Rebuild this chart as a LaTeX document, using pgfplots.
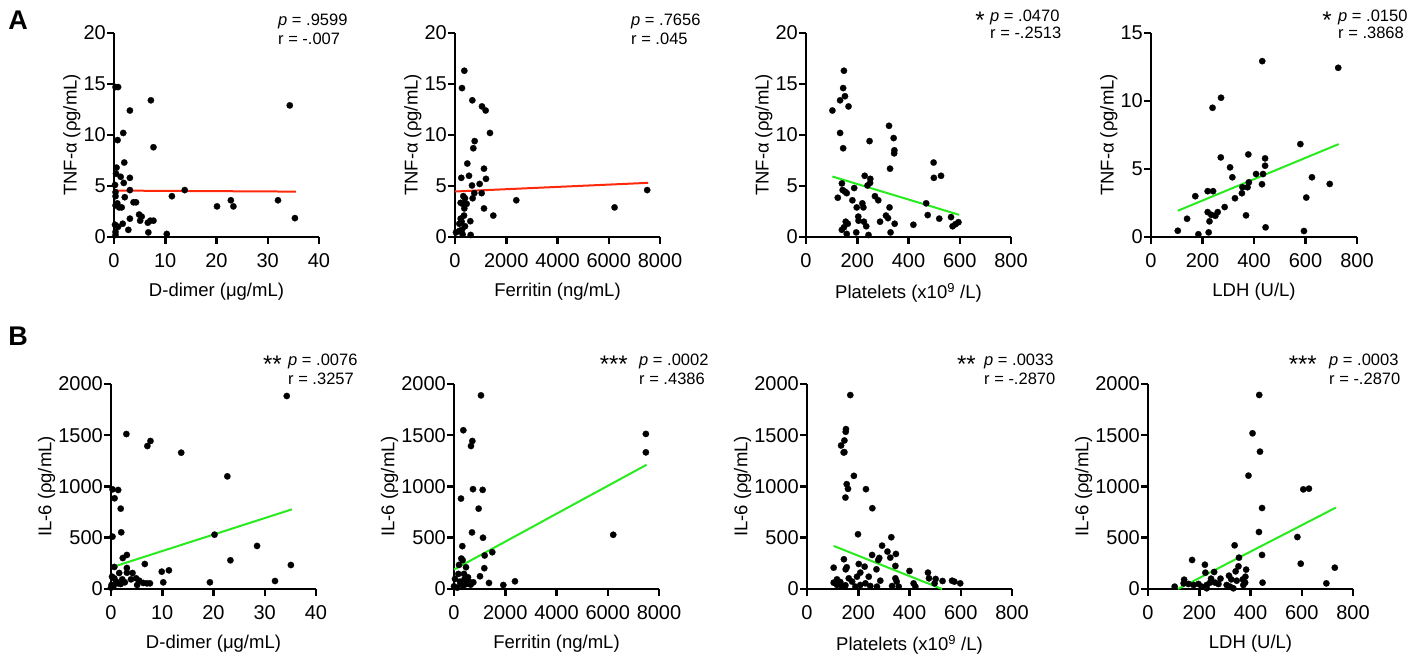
\documentclass[border=0pt]{standalone}
\usepackage{fontspec}
\setmainfont{Liberation Sans}
\usepackage{pgfplots}
\pgfplotsset{compat=1.18}
\definecolor{fitred}{RGB}{255,40,10}
\definecolor{fitgreen}{RGB}{40,235,30}
\newcommand\tickfont{\fontsize{20}{22}\selectfont}
\newcommand\labfont{\fontsize{18.5}{21}\selectfont}
\newcommand\annfont{\fontsize{16.5}{19}\selectfont}
\newcommand\starfont{\fontsize{24}{26}\selectfont}
\pgfplotsset{
  gp/.style={
    scale only axis, width=205pt, height=204pt, anchor=south west,
    axis x line=bottom, axis y line=left,
    axis line style={-, line width=2.5pt, black},
    xmin=0, ymin=0, clip=false,
    tick align=outside, major tick length=7pt,
    every tick/.style={line width=2.5pt, black},
    xticklabel style={font=\tickfont, inner sep=0pt, yshift=-9pt},
    yticklabel style={font=\tickfont, inner sep=0pt, xshift=-1pt},
    xlabel style={font=\labfont, at={(axis description cs:0.5,0)}, anchor=north, inner sep=0pt, yshift=-46pt},
    ylabel style={font=\labfont, inner sep=3pt},
    /pgf/number format/1000 sep={},
    /pgf/number format/assume math mode=true,
  },
  dots/.style={only marks, mark=*, mark size=3.2pt, black, mark options={solid, fill=black, draw=black, line width=0.2pt}},
  fit/.style={no marks, line width=2pt, #1},
}
% annotation: x of p, baseline of p line (image px from top), line gap, star right edge, stars, p, r
\newcommand\ann[7]{%
  \node[anchor=base west, inner sep=0pt, font=\annfont] at (#1pt, 658pt-#2pt) {\textit{p} = #6};
  \node[anchor=base west, inner sep=0pt, font=\annfont] at (#1pt, 658pt-#2pt-#3pt) {r = #7};
  \node[anchor=base east, inner sep=0pt, font=\starfont] at (#4pt, 658pt-#2pt-7pt) {#5};
}
\begin{document}
\begin{tikzpicture}
\path[use as bounding box] (0,0) rectangle (1424pt,658pt);
% ---------------- Row A ----------------
\begin{axis}[gp, at={(114pt,421pt)}, xmax=40, ymax=20, xtick={0,10,20,30,40}, ytick={0,5,10,15,20},
  xlabel={D-dimer (μg/mL)}, ylabel={TNF-α (ρg/mL)}]
\addplot[dots] coordinates {(0.3,14.7)(0.8,14.7)(7.2,13.4)(3.1,12.4)(34.3,12.9)(1.8,10.2)(0.7,9.5)(7.7,8.8)(2.0,7.3)(0.5,6.8)(0.4,6.2)(1.3,5.9)(3.1,5.8)(0.2,5.1)(1.9,5.3)(3.1,4.6)(0.3,4.4)(13.8,4.6)(0.3,4.0)(2.1,3.9)(11.3,4.0)(3.8,3.4)(4.3,3.4)(22.8,3.6)(32.0,3.6)(20.1,3.0)(23.3,3.0)(0.65,3.3)(1.0,2.9)(1.5,2.9)(0.3,3.1)(4.9,2.2)(5.4,2.0)(5.1,1.6)(3.1,1.8)(35.3,1.85)(6.6,1.4)(7.1,1.6)(7.7,1.6)(1.7,1.3)(0.2,1.2)(0.8,1.0)(2.8,0.7)(6.7,0.45)(10.3,0.3)(0.3,0.5)(0.3,0.2)};
\addplot[fit=fitred] coordinates {(0,4.55)(35.5,4.45)};
\end{axis}
\begin{axis}[gp, at={(455pt,421pt)}, xmax=8000, ymax=20, xtick={0,2000,4000,6000,8000}, ytick={0,5,10,15,20},
  xlabel={Ferritin (ng/mL)}, ylabel={TNF-α (ρg/mL)}]
\addplot[dots] coordinates {(364,16.3)(273,14.6)(676,13.4)(1053,12.8)(1196,12.4)(1365,10.2)(767,9.4)(715,8.7)(481,7.2)(1131,6.7)(546,6.0)(247,5.8)(1209,5.7)(663,5.05)(962,5.2)(1040,4.3)(754,4.3)(689,3.8)(325,4.0)(390,3.8)(221,3.35)(299,3.25)(455,3.25)(364,2.8)(1131,2.8)(2392,3.6)(6227,2.9)(7500,4.6)(1495,2.1)(351,2.1)(221,1.8)(260,1.5)(598,1.55)(169,1.3)(390,1.05)(273,0.7)(39,0.45)(299,0.25)(611,0.2)(169,0.6)};
\addplot[fit=fitred] coordinates {(0,4.46)(7540,5.31)};
\end{axis}
\begin{axis}[gp, at={(806pt,421pt)}, xmax=800, ymax=20, xtick={0,200,400,600,800}, ytick={0,5,10,15,20},
  xlabel={Platelets (x10\textsuperscript{9} /L)}, ylabel={TNF-α (ρg/mL)}]
\addplot[dots] coordinates {(148,16.3)(145,14.6)(152,13.8)(133,13.4)(166,12.8)(103,12.4)(133,10.2)(145,8.7)(324,10.9)(342,9.7)(248,9.4)(345,8.5)(344,8.2)(328,6.7)(498,7.3)(499,5.8)(527,6.0)(229,6.0)(251,5.7)(250,5.3)(240,5.05)(140,5.25)(188,4.8)(143,4.6)(152,4.45)(159,4.3)(124,3.85)(269,4.0)(282,3.6)(181,3.6)(220,3.3)(224,2.9)(198,2.9)(326,2.9)(469,3.3)(475,2.15)(204,2.0)(205,1.6)(312,2.1)(320,1.85)(289,1.5)(226,1.5)(155,1.5)(163,1.3)(346,1.3)(419,1.2)(520,1.8)(566,1.95)(572,1.05)(583,1.25)(595,1.45)(235,1.05)(140,0.7)(148,0.95)(159,0.3)(196,0.45)(244,0.2)(330,0.45)};
\addplot[fit=fitgreen] coordinates {(103,5.93)(597,2.18)};
\end{axis}
\begin{axis}[gp, at={(1151pt,421pt)}, width=206pt, xmax=800, ymax=15, xtick={0,200,400,600,800}, ytick={0,5,10,15},
  xlabel={LDH (U/L)}, ylabel={TNF-α (ρg/mL)}]
\addplot[dots] coordinates {(432,12.93)(727,12.44)(272,10.24)(239,9.5)(580,6.83)(378,6.07)(271,5.85)(443,5.78)(307,5.12)(443,5.24)(408,4.63)(435,4.63)(316,4.39)(625,4.39)(380,4.02)(355,3.66)(375,3.66)(431,3.88)(694,3.90)(353,3.22)(220,3.37)(241,3.37)(172,3.0)(326,2.85)(603,2.9)(286,2.2)(220,1.83)(259,1.83)(234,1.63)(250,1.56)(369,1.59)(227,1.15)(140,1.34)(104,0.46)(224,0.34)(184,0.2)(445,0.71)(594,0.44)};
\addplot[fit=fitgreen] coordinates {(104,1.93)(729,6.83)};
\end{axis}
% ---------------- Row B ----------------
\begin{axis}[gp, at={(111pt,69pt)}, height=205pt, xmax=40, ymax=2000, xtick={0,10,20,30,40}, ytick={0,500,1000,1500,2000},
  xlabel={D-dimer (μg/mL)}, ylabel={IL-6 (ρg/mL)}]
\addplot[dots] coordinates {(34.3,1883)(3.0,1512)(7.7,1444)(7.1,1395)(13.7,1330)(22.7,1099)(0.3,972)(1.4,966)(0.7,885)(1.9,784)(2.0,553)(0.3,511)(20.2,530)(28.5,420)(23.3,280)(35.1,234)(3.1,332)(2.3,302)(0.65,215)(6.6,244)(3.1,205)(9.9,169)(11.3,182)(1.6,156)(4.2,156)(3.1,159)(0.2,120)(0.65,104)(2.2,94)(3.9,94)(4.9,104)(5.5,81)(6.3,59)(7.0,55)(7.6,55)(5.1,39)(2.7,65)(1.4,55)(0.1,39)(0.45,23)(0,13)(10.2,65)(19.3,65)(32.0,78)(1.0,72)(1.9,49)};
\addplot[fit=fitgreen] coordinates {(0.1,211)(35.3,777)};
\end{axis}
\begin{axis}[gp, at={(454pt,69pt)}, height=205pt, xmax=8000, ymax=2000, xtick={0,2000,4000,6000,8000}, ytick={0,500,1000,1500,2000},
  xlabel={Ferritin (ng/mL)}, ylabel={IL-6 (ρg/mL)}]
\addplot[dots] coordinates {(1053,1889)(364,1549)(715,1444)(663,1395)(7488,1513)(7488,1333)(741,974)(1118,967)(273,882)(962,784)(702,552)(1131,500)(6214,529)(325,418)(1495,359)(1196,327)(286,297)(338,281)(195,235)(468,212)(1183,203)(1014,124)(546,114)(390,147)(169,147)(39,98)(234,72)(403,92)(585,72)(754,65)(650,42)(1365,59)(1924,39)(2379,75)(0,26)(130,13)(364,33)(494,49)(260,49)};
\addplot[fit=fitgreen] coordinates {(0,190)(7514,1212)};
\end{axis}
\begin{axis}[gp, at={(807pt,69pt)}, height=205pt, xmax=800, ymax=2000, xtick={0,200,400,600,800}, ytick={0,500,1000,1500,2000},
  xlabel={Platelets (x10\textsuperscript{9} /L)}, ylabel={IL-6 (ρg/mL)}]
\addplot[dots] coordinates {(169,1892)(152,1560)(151,1534)(146,1449)(133,1400)(146,1335)(143,1332)(183,1104)(155,1023)(160,977)(230,974)(150,892)(255,788)(199,534)(329,505)(293,423)(314,365)(347,342)(325,306)(254,332)(282,303)(278,283)(144,290)(202,244)(225,218)(345,225)(104,208)(155,212)(271,192)(400,176)(472,160)(502,98)(529,78)(566,81)(575,72)(598,55)(476,104)(151,192)(117,94)(130,68)(163,104)(195,120)(208,160)(241,120)(286,81)(345,104)(350,72)(332,29)(416,55)(423,23)(498,55)(117,39)(150,36)(176,72)(208,39)(228,55)(247,29)(273,23)(137,23)(358,23)(104,62)(189,23)};
\addplot[fit=fitgreen] coordinates {(104,420)(527,0)};
\end{axis}
\begin{axis}[gp, at={(1148pt,69pt)}, height=205pt, xmax=800, ymax=2000, xtick={0,200,400,600,800}, ytick={0,500,1000,1500,2000},
  xlabel={LDH (U/L)}, ylabel={IL-6 (ρg/mL)}]
\addplot[dots] coordinates {(434,1893)(408,1519)(437,1340)(392,1106)(606,972)(628,979)(445,790)(433,556)(583,507)(338,426)(355,306)(445,332)(596,247)(172,283)(729,208)(222,237)(383,189)(353,221)(342,172)(258,166)(224,159)(316,130)(380,120)(283,101)(246,101)(141,91)(346,81)(325,94)(447,62)(696,55)(104,23)(139,55)(158,49)(178,39)(197,49)(210,23)(229,39)(242,62)(262,62)(275,49)(307,39)(320,23)(372,39)(379,62)(370,94)(333,7)(229,7)};
\addplot[fit=fitgreen] coordinates {(117,0)(733,794)};
\end{axis}
% ---------------- annotations ----------------
\ann{278}{26}{19}{0}{}{.9599}{-.007}
\ann{631}{26}{19}{0}{}{.7656}{.045}
\ann{990}{22}{17}{985}{*}{.0470}{-.2513}
\ann{1338}{22}{17}{1332}{*}{.0150}{.3868}
\ann{288}{366}{19}{282}{**}{.0076}{.3257}
\ann{639}{366}{19}{628}{***}{.0002}{.4386}
\ann{984}{366}{19}{976}{**}{.0033}{-.2870}
\ann{1329}{366}{19}{1317}{***}{.0003}{-.2870}
\node[font=\fontsize{27}{29}\selectfont\bfseries, inner sep=0pt] at (18pt,638pt) {A};
\node[font=\fontsize{27}{29}\selectfont\bfseries, inner sep=0pt] at (18pt,322pt) {B};
\end{tikzpicture}
\end{document}
